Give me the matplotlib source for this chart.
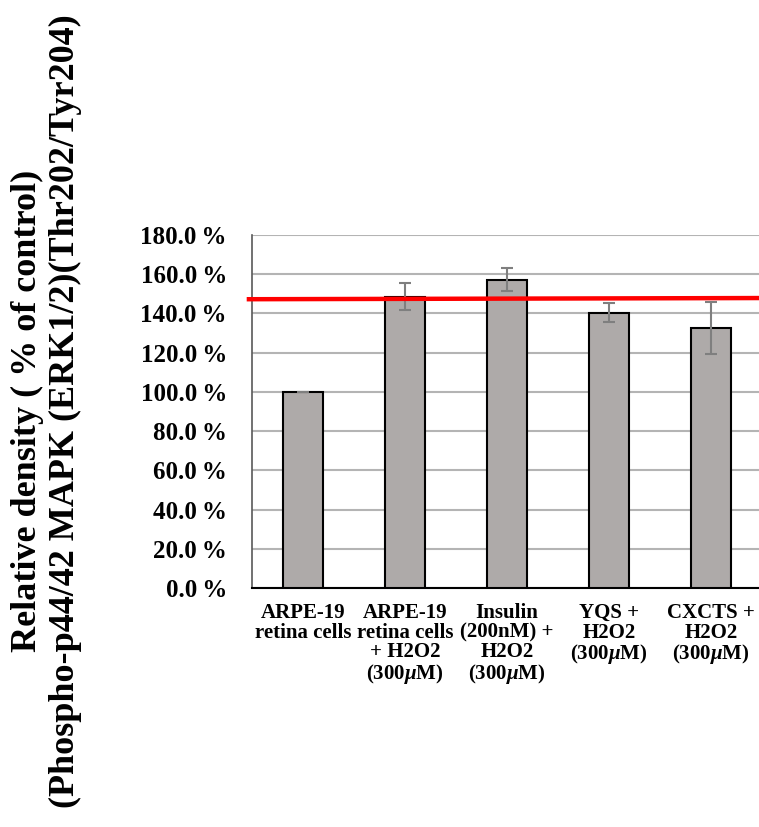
import numpy as np
import matplotlib.pyplot as plt

plt.rcParams["font.family"] = ["Liberation Serif", "DejaVu Serif"]
plt.rcParams["font.weight"] = "bold"
plt.rcParams["mathtext.fontset"] = "custom"
plt.rcParams["mathtext.it"] = "Liberation Serif:italic:bold"
plt.rcParams["mathtext.rm"] = "Liberation Serif:bold"

# Groups and measured phospho-ERK levels (% of control)
groups = [
    "ARPE-19\nretina cells",
    "ARPE-19\nretina cells\n+ H2O2\n(300$\\mu$M)",
    "Insulin\n(200nM) +\nH2O2\n(300$\\mu$M)",
    "YQS +\nH2O2\n(300$\\mu$M)",
    "CXCTS +\nH2O2\n(300$\\mu$M)",
]
density = [100.0, 148.5, 157.1, 140.4, 132.4]
density_err = [0.0, 7.0, 5.8, 4.7, 13.2]
# reference level of the H2O2 group, drawn across the chart
ref_level = [147.2, 147.8]
y_ticks = np.arange(0, 181, 20)

fig = plt.figure(figsize=(7.59, 8.27), dpi=100)
ax = fig.add_axes([0.332, 0.289, 0.672, 0.427])

x = np.arange(len(groups))
ax.bar(x, density, width=0.4, color="#aeaaa9", edgecolor="black", linewidth=1.5, zorder=3)
ax.errorbar(x, density, yerr=density_err, fmt="none", ecolor="#7f7f7f",
            elinewidth=1.5, capsize=4.5, capthick=1.5, zorder=4)

ax.plot([-0.53, 4.5], ref_level, color="#ff0000", linewidth=3.2, clip_on=False, zorder=5)

ax.set_xlim(-0.5, 4.5)
ax.set_ylim(0, 180)
ax.set_yticks(y_ticks)
ax.set_yticklabels([f"{v:.1f}\u2009%" for v in y_ticks], fontsize=18, fontweight="bold")
ax.set_xticks(x)
ax.set_xticklabels(groups, fontsize=15, fontweight="bold", linespacing=0.97)
ax.tick_params(axis="y", length=0, pad=18)
ax.tick_params(axis="x", length=0, pad=11)

ax.grid(axis="y", color="#b4b4b4", linewidth=1.5, zorder=0)
ax.set_axisbelow(True)
for side in ["top", "right"]:
    ax.spines[side].set_visible(False)
ax.spines["left"].set_color("#595959")
ax.spines["left"].set_linewidth(1.2)
ax.spines["bottom"].set_color("black")
ax.spines["bottom"].set_linewidth(1.5)

fig.text(0.061, 0.503,
         "Relative density ( % of control)\n(Phospho-p44/42 MAPK (ERK1/2)(Thr202/Tyr204)",
         rotation=90, ha="center", va="center", multialignment="center",
         fontsize=26, fontweight="bold", linespacing=1.2)

fig.savefig("out.png", dpi=100)
